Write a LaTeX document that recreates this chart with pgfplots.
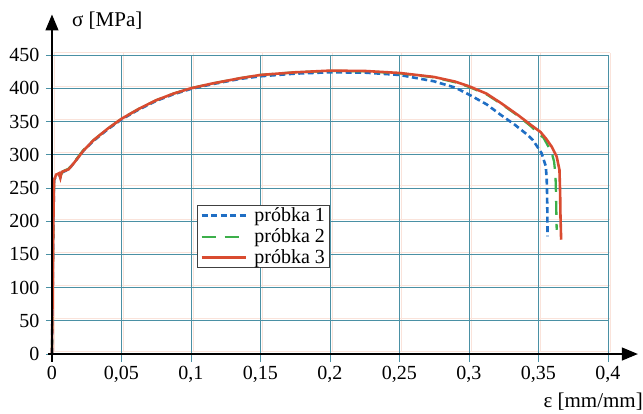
\documentclass[border=0pt]{standalone}
\usepackage{fontspec}
\setmainfont{Liberation Serif}
\usepackage{pgfplots}
\pgfplotsset{compat=1.18}
\usetikzlibrary{arrows.meta}
\definecolor{gridteal}{HTML}{4A90A4}
\definecolor{gridsalmon}{HTML}{FAE3DA}
\definecolor{cBlue}{HTML}{1F6EC4}
\definecolor{cGreen}{HTML}{3CAF4A}
\definecolor{cRed}{HTML}{D94B30}

\pgfplotstableread{
x y
0 0
0.001 200
0.0015 262
0.003 268
0.005 271
0.006 266
0.007 273
0.012 278
0.016 288
0.0226 306
0.03 321
0.04 338
0.05 353
0.0625 368
0.075 381
0.0875 391
0.1 399
0.115 406
0.135 414
0.15 418
0.175 422
0.2 424
0.225 423.5
0.25 420
0.2747 410.5
0.29 401
0.3 390.5
0.3125 376
0.3228 360
0.333 345
0.342 330
0.346 322
0.3523 302
0.3552 283
0.3559 265
0.3562 240
0.3564 210
0.3565 177
}\probkaA

\pgfplotstableread{
x y
0 0
0.001 205
0.0015 264
0.003 269
0.005 272
0.0065 270
0.008 275
0.012 279
0.016 289
0.0226 307
0.03 322
0.04 339
0.05 354
0.0625 369
0.075 382
0.0875 392
0.1 400
0.115 407
0.135 415
0.15 420
0.175 424
0.2 426
0.225 425.5
0.25 422.5
0.2747 416.5
0.29 409
0.3 402
0.3125 391
0.3228 377
0.335 359
0.3444 343
0.3538 325
0.3595 303
0.3612 290
0.3622 270
0.3625 250
0.3628 220
0.3631 187
}\probkaB

\pgfplotstableread{
x y
0 0
0.001 200
0.0015 262
0.003 270
0.005 272
0.006 265
0.007 274
0.012 278
0.016 288
0.0226 306
0.03 322
0.04 339
0.05 354
0.0625 369
0.075 382
0.0875 392
0.1 400
0.115 407
0.135 415
0.15 420
0.175 424
0.2 426.5
0.225 426
0.25 423
0.2747 417
0.29 410
0.3 403
0.3125 392
0.3228 378
0.335 360
0.3444 345
0.3515 334
0.3555 324
0.3595 312
0.3631 297
0.3651 277
0.3656 240
0.3658 210
0.3663 172
}\probkaC

\begin{document}
\begin{tikzpicture}
% faint offset grid (print misregistration look)
\begin{axis}[
    at={(2.2pt,2.2pt)},
    scale only axis,
    width=556pt, height=299pt,
    xmin=0, xmax=0.4, ymin=0, ymax=450,
    xtick={0,0.05,0.1,0.15,0.2,0.25,0.3,0.35,0.4},
    ytick={0,50,100,150,200,250,300,350,400,450},
    xticklabels={}, yticklabels={},
    grid=major,
    major grid style={draw=gridsalmon, line width=0.7pt},
    axis line style={draw=none},
    tick style={draw=none},
]
\end{axis}
\begin{axis}[
    at={(0pt,0pt)},
    scale only axis,
    width=556pt, height=299pt,
    xmin=0, xmax=0.4, ymin=0, ymax=450,
    clip=false,
    xtick={0,0.05,0.1,0.15,0.2,0.25,0.3,0.35,0.4},
    xticklabels={0,{0,05},{0,1},{0,15},{0,2},{0,25},{0,3},{0,35},{0,4}},
    ytick={0,50,100,150,200,250,300,350,400,450},
    /pgf/number format/assume math mode=true,
    ticklabel style={font=\fontsize{20}{22}\selectfont},
    xtick pos=bottom, ytick pos=left,
    tick align=outside,
    major tick length=8pt,
    ytick style={/pgfplots/major tick length=6pt},
    tick style={draw=gridteal, line width=0.8pt},
    grid=major,
    major grid style={draw=gridteal, line width=0.8pt},
    axis line style={draw=none},
    xticklabel style={yshift=-1pt},
    yticklabel style={xshift=-1pt},
    legend style={at={(axis cs:0.1043,224)}, anchor=north west,
        draw=black!75, line width=0.8pt, fill=white,
        font=\fontsize{20}{21}\selectfont,
        inner xsep=3pt, inner ysep=1pt, row sep=2.5pt,
        nodes={inner sep=1.5pt},
        /tikz/every odd column/.append style={column sep=6pt}},
    legend cell align=left,
    legend image code/.code={\draw[#1] (0pt,0pt) -- (44pt,0pt);},
]
\addplot[cBlue, line width=2.6pt, dash pattern=on 6pt off 3.5pt] table {\probkaA};
\addlegendentry{próbka 1}
\addplot[cGreen, line width=2.3pt, dash pattern=on 14pt off 9pt] table {\probkaB};
\addlegendentry{próbka 2}
\addplot[cRed, line width=2.6pt] table {\probkaC};
\addlegendentry{próbka 3}

\draw[line width=1.3pt, -{Triangle[length=16pt,width=13pt]}]
    (axis cs:-0.003,0) -- (axis cs:0.4215,0);
\draw[line width=1.3pt, -{Triangle[length=16pt,width=13pt]}]
    (axis cs:0,-12) -- (axis cs:0,511);
\node[anchor=west, font=\fontsize{21}{22}\selectfont, inner sep=0pt]
    at (axis cs:0.0144,502) {σ [MPa]};
\node[anchor=east, font=\fontsize{21}{22}\selectfont, inner sep=0pt]
    at (axis cs:0.4252,-72) {ε [mm/mm]};
\coordinate (bbsw) at (axis cs:-0.0374,-88.8);
\coordinate (bbne) at (axis cs:0.4252,532.8);
\end{axis}
\pgfresetboundingbox
\useasboundingbox (bbsw) rectangle (bbne);
\end{tikzpicture}
\end{document}
